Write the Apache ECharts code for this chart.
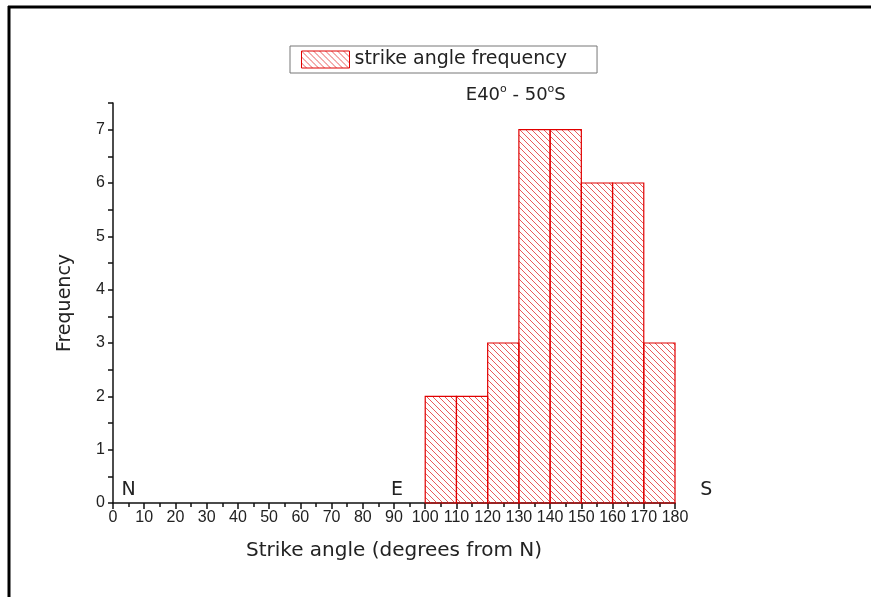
<!DOCTYPE html>
<html>
<head>
<meta charset="utf-8">
<script src="https://cdn.jsdelivr.net/npm/echarts@6/dist/echarts.min.js"></script>
<style>
html,body{margin:0;padding:0;background:#fff;}
#chart{width:871px;height:597px;}
</style>
</head>
<body>
<div id="chart"></div>
<script>
// ---- data ----
const binStarts = [100, 110, 120, 130, 140, 150, 160, 170];
const binEnds   = [110, 120, 130, 140, 150, 160, 170, 180];
const frequencies = [2, 2, 3, 7, 7, 6, 6, 3];
const seriesName = 'strike angle frequency';
const directionLabels = ['N', 'E', 'S'];
const directionAngles = [5, 91, 190];

// hatch pattern
function makeHatch(){
  const s = 6;
  const c = document.createElement('canvas');
  c.width = s; c.height = s;
  const g = c.getContext('2d');
  g.strokeStyle = 'rgba(228,50,50,0.8)';
  g.lineWidth = 1;
  g.beginPath();
  g.moveTo(-1, -1); g.lineTo(s + 1, s + 1);
  g.moveTo(-1, s - 1); g.lineTo(1, s + 1);
  g.moveTo(s - 1, -1); g.lineTo(s + 1, 1);
  g.stroke();
  return c;
}
const hatch = {image: makeHatch(), repeat: 'repeat'};

const chart = echarts.init(document.getElementById('chart'));
const tickFont = 'Liberation Sans, Arial, sans-serif';
const titleFont = 'DejaVu Sans, sans-serif';

const option = {
  backgroundColor: '#fff',
  animation: false,
  textStyle: {fontFamily: tickFont},
  grid: {left: 113, right: 196, top: 103, bottom: 94},
  legend: {
    top: 46, left: 290,
    data: [seriesName],
    icon: 'rect',
    itemWidth: 48, itemHeight: 17,
    itemGap: 6,
    padding: [4, 30, 4, 11],
    borderColor: '#777', borderWidth: 1,
    textStyle: {fontSize: 19, color: '#222', fontFamily: titleFont},
    itemStyle: {color: hatch, borderColor: '#e00000', borderWidth: 1}
  },
  xAxis: {
    type: 'value', min: 0, max: 180, interval: 10,
    name: 'Strike angle (degrees from N)', nameLocation: 'middle', nameGap: 38,
    nameTextStyle: {fontSize: 20, color: '#222', fontFamily: titleFont},
    axisLine: {show: true, lineStyle: {color: '#111', width: 1.5}},
    axisTick: {show: true, inside: false, length: 6, lineStyle: {color: '#111', width: 1.5}},
    minorTick: {show: true, splitNumber: 2, length: 4, lineStyle: {color: '#111', width: 1.5}},
    axisLabel: {fontSize: 16, color: '#222', margin: 7, fontFamily: tickFont},
    splitLine: {show: false}
  },
  yAxis: {
    type: 'value', min: 0, max: 7.5, interval: 0.5,
    name: 'Frequency', nameLocation: 'middle', nameGap: 38, nameRotate: 90,
    nameTextStyle: {fontSize: 19, color: '#222', fontFamily: titleFont},
    axisLine: {show: true, lineStyle: {color: '#111', width: 1.5}},
    axisTick: {show: true, inside: false, length: 5, lineStyle: {color: '#111', width: 1.5}},
    axisLabel: {fontSize: 16, color: '#222', margin: 8, fontFamily: tickFont,
      formatter: function(v){ return Number.isInteger(v) ? String(v) : ''; }},
    splitLine: {show: false}
  },
  series: [{
    name: seriesName,
    type: 'custom',
    itemStyle: {color: hatch, borderColor: '#e00000', borderWidth: 1.2},
    encode: {x: [0, 1], y: 2},
    data: binStarts.map((s, i) => [s, binEnds[i], frequencies[i]]),
    renderItem: function(params, api){
      const p0 = api.coord([api.value(0), api.value(2)]);
      const p1 = api.coord([api.value(1), 0]);
      return {
        type: 'rect',
        shape: {x: p0[0], y: p0[1], width: p1[0] - p0[0], height: p1[1] - p0[1]},
        style: {fill: hatch, stroke: '#e00000', lineWidth: 1.2}
      };
    }
  }]
};
chart.setOption(option);

// annotations placed through the axes' scales
const graphics = [
  {type: 'line', shape: {x1: 8, y1: 7, x2: 871, y2: 7}, style: {stroke: '#000', lineWidth: 3}},
  {type: 'line', shape: {x1: 9, y1: 6, x2: 9, y2: 597}, style: {stroke: '#000', lineWidth: 3}}
];
directionLabels.forEach((t, i) => {
  const p = chart.convertToPixel({gridIndex: 0}, [directionAngles[i], 0.25]);
  graphics.push({type: 'text', x: p[0], y: p[1],
    style: {text: t, fontSize: 19, fill: '#222', fontFamily: titleFont, align: 'center', verticalAlign: 'middle'}});
});
const tp = chart.convertToPixel({gridIndex: 0}, [129, 7.5]);
graphics.push({type: 'text', x: tp[0], y: 94,
  style: {
    text: '{n|E40}{s|o}{n| - 50}{s|o}{n|S}',
    align: 'center', verticalAlign: 'middle',
    rich: {
      n: {fontSize: 18, fill: '#222', fontFamily: titleFont, verticalAlign: 'bottom'},
      s: {fontSize: 11, fill: '#222', fontFamily: titleFont, verticalAlign: 'top', padding: [0, 0, 9, 0]}
    }
  }});
chart.setOption({graphic: graphics});
</script>
</body>
</html>
